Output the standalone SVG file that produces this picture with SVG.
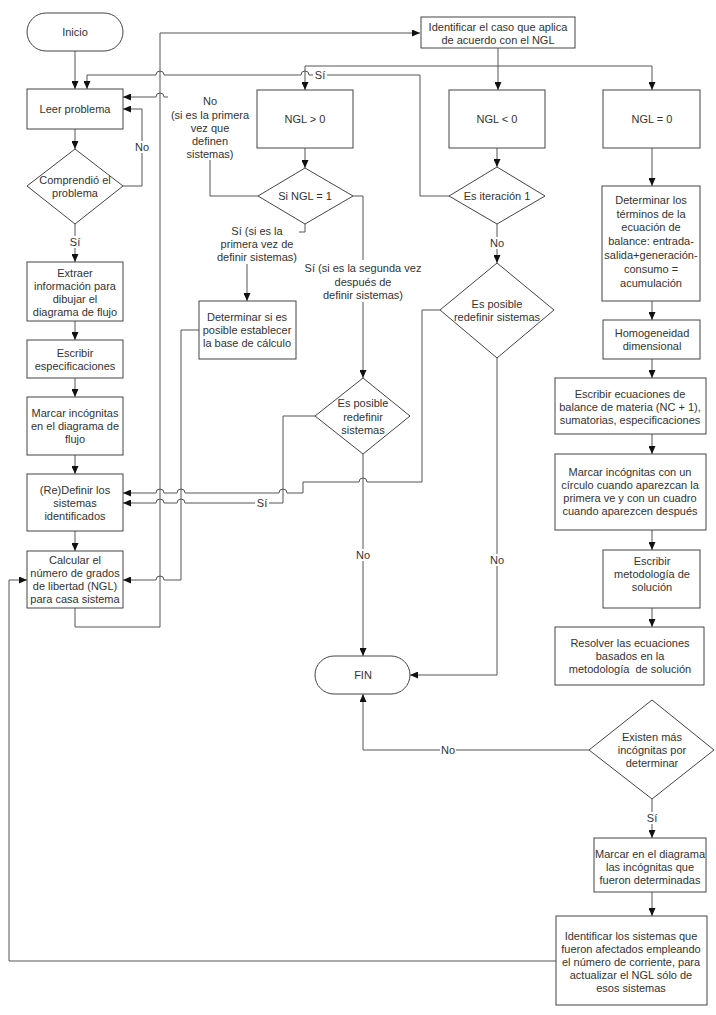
<svg xmlns="http://www.w3.org/2000/svg" width="716" height="1015" viewBox="0 0 716 1015">
<style>
text{font-family:"Liberation Sans",Arial,sans-serif;font-size:11px;fill:#333;text-anchor:middle;dominant-baseline:central}
.n{fill:#fff;stroke:#444;stroke-width:1}
.c{fill:none;stroke:#555;stroke-width:1;marker-end:url(#ah)}
.p{fill:none;stroke:#555;stroke-width:1}
.bg{fill:#fff;stroke:none}
</style>
<defs>
<marker id="ah" markerWidth="8" markerHeight="7" refX="8" refY="3.5" orient="auto" markerUnits="userSpaceOnUse"><path d="M0,0 L8,3.5 L0,7 z" fill="#111"/></marker>
</defs>
<rect width="716" height="1015" fill="#fff"/>
<g id="connectors">
<path class="c" d="M75 51 V89"/>
<path class="c" d="M450 196 H420 V75 H309 A4 4 0 0 0 301 75 H164 A4 4 0 0 0 156 75 H87 V89"/>
<path class="c" d="M258 196 H210 V97 H164 A4 4 0 0 0 156 97 H123"/>
<path class="c" d="M123 186 H142 V109 H123"/>
<path class="c" d="M75 129 V149"/>
<path class="c" d="M75 224 V262"/>
<path class="c" d="M75 321 V340"/>
<path class="c" d="M75 378 V397"/>
<path class="c" d="M75 455 V474"/>
<path class="c" d="M75 531 V551"/>
<path class="c" d="M75 608 V627 H160 V33 H420"/>
<path class="c" d="M498 48 V90"/>
<path class="c" d="M498 66 H305 V90"/>
<path class="c" d="M498 66 H652 V90"/>
<path class="c" d="M305 148 V168"/>
<path class="c" d="M305 224 V232 H247 V301"/>
<path class="c" d="M353 196 H363 V378"/>
<path class="c" d="M199 330 H181 V580 H164 A4 4 0 0 0 156 580 H123"/>
<path class="c" d="M315 416 H283 V503 H185 A4 4 0 0 0 177 503 H164 A4 4 0 0 0 156 503 H123"/>
<path class="c" d="M363 454 V656"/>
<path class="c" d="M497 148 V167"/>
<path class="c" d="M497 224 V263"/>
<path class="c" d="M440 310 H422 V482 H367 A4 4 0 0 0 359 482 H303 V493 H287 A4 4 0 0 0 279 493 H185 A4 4 0 0 0 177 493 H164 A4 4 0 0 0 156 493 H123"/>
<path class="c" d="M497 358 V675 H410"/>
<path class="c" d="M652 148 V186"/>
<path class="c" d="M652 301 V320"/>
<path class="c" d="M652 359 V378"/>
<path class="c" d="M652 434 V454"/>
<path class="c" d="M652 530 V550"/>
<path class="c" d="M652 608 V627"/>
<path class="c" d="M589 750 H363 V694"/>
<path class="c" d="M652 799 V838"/>
<path class="c" d="M652 892 V916"/>
<path class="c" d="M556 961 H9 V580 H27"/>
</g>
<g id="labels">
<rect class="bg" x="313" y="69" width="14" height="12"/><text x="320" y="75">Sí</text>
<rect class="bg" x="134" y="141" width="16" height="12"/><text x="142" y="147">No</text>
<rect class="bg" x="68" y="236" width="14" height="12"/><text x="75" y="242">Sí</text>
<rect class="bg" x="168" y="93" width="84" height="67"/>
<text x="210" y="101">No</text><text x="210" y="115">(si es la primera</text><text x="210" y="128">vez que</text><text x="210" y="141">definen</text><text x="210" y="154">sistemas)</text>
<rect class="bg" x="215" y="224" width="84" height="40"/>
<text x="257" y="231">Sí (si es la</text><text x="257" y="244">primera vez de</text><text x="257" y="257">definir sistemas)</text>
<rect class="bg" x="302" y="260" width="122" height="42"/>
<text x="363" y="268">Sí (si es la segunda vez</text><text x="363" y="282">después de</text><text x="363" y="295">definir sistemas)</text>
<rect class="bg" x="255" y="497" width="14" height="12"/><text x="262" y="503">Sí</text>
<rect class="bg" x="355" y="549" width="16" height="12"/><text x="363" y="555">No</text>
<rect class="bg" x="489" y="554" width="16" height="12"/><text x="497" y="560">No</text>
<rect class="bg" x="489" y="237" width="16" height="12"/><text x="497" y="243">No</text>
<rect class="bg" x="440" y="744" width="16" height="12"/><text x="448" y="750">No</text>
<rect class="bg" x="645" y="812" width="14" height="12"/><text x="652" y="818">Sí</text>
</g>
<g id="inicio"><rect class="n" x="27" y="13" width="96" height="38" rx="19"/><text x="75" y="32">Inicio</text></g>
<g id="leer"><rect class="n" x="27" y="89" width="96" height="40"/><text x="75" y="109">Leer problema</text></g>
<g id="comprendio"><polygon class="n" points="75,149 123,186 75,224 27,186"/><text x="75" y="180">Comprendió el</text><text x="75" y="193">problema</text></g>
<g id="extraer"><rect class="n" x="27" y="262" width="96" height="59"/><text x="75" y="273">Extraer</text><text x="75" y="286">información para</text><text x="75" y="299">dibujar el</text><text x="75" y="312">diagrama de flujo</text></g>
<g id="especificaciones"><rect class="n" x="27" y="340" width="96" height="38"/><text x="75" y="353">Escribir</text><text x="75" y="366">especificaciones</text></g>
<g id="marcar1"><rect class="n" x="27" y="397" width="96" height="58"/><text x="75" y="413">Marcar incógnitas</text><text x="75" y="426">en el diagrama de</text><text x="75" y="439">flujo</text></g>
<g id="redefinir"><rect class="n" x="27" y="474" width="96" height="57"/><text x="75" y="490">(Re)Definir los</text><text x="75" y="503">sistemas</text><text x="75" y="516">identificados</text></g>
<g id="calcular"><rect class="n" x="27" y="551" width="96" height="57"/><text x="75" y="560">Calcular el</text><text x="75" y="573">número de grados</text><text x="75" y="586">de libertad (NGL)</text><text x="75" y="599">para casa sistema</text></g>
<g id="identificar"><rect class="n" x="421" y="17" width="154" height="31"/><text x="498" y="27">Identificar el caso que aplica</text><text x="498" y="40">de acuerdo con el NGL</text></g>
<g id="ngl_pos"><rect class="n" x="257" y="90" width="96" height="58"/><text x="305" y="119">NGL &gt; 0</text></g>
<g id="ngl_neg"><rect class="n" x="449" y="90" width="96" height="58"/><text x="497" y="119">NGL &lt; 0</text></g>
<g id="ngl_cero"><rect class="n" x="603" y="90" width="97" height="58"/><text x="652" y="119">NGL = 0</text></g>
<g id="si_ngl1"><polygon class="n" points="305,168 353,196 305,224 258,196"/><text x="305" y="196">Si NGL = 1</text></g>
<g id="iteracion"><polygon class="n" points="497,167 545,196 497,224 449,196"/><text x="497" y="196">Es iteración 1</text></g>
<g id="redefinir_der"><polygon class="n" points="497,263 554,310 497,358 440,310"/><text x="497" y="304">Es posible</text><text x="497" y="317">redefinir sistemas</text></g>
<g id="base_calculo"><rect class="n" x="199" y="301" width="97" height="58"/><text x="247" y="317">Determinar si es</text><text x="247" y="330">posible establecer</text><text x="247" y="343">la base de cálculo</text></g>
<g id="redefinir_med"><polygon class="n" points="363,378 410,416 363,454 315,416"/><text x="363" y="403">Es posible</text><text x="363" y="417">redefinir</text><text x="363" y="430">sistemas</text></g>
<g id="fin"><rect class="n" x="315" y="656" width="95" height="38" rx="19"/><text x="363" y="675">FIN</text></g>
<g id="terminos"><rect class="n" x="602" y="186" width="98" height="115"/><text x="651" y="200">Determinar los</text><text x="651" y="214">términos de la</text><text x="651" y="227">ecuación de</text><text x="651" y="241">balance: entrada-</text><text x="651" y="255">salida+generación-</text><text x="651" y="269">consumo =</text><text x="651" y="283">acumulación</text></g>
<g id="homogeneidad"><rect class="n" x="603" y="320" width="97" height="39"/><text x="652" y="333">Homogeneidad</text><text x="652" y="346">dimensional</text></g>
<g id="ecuaciones"><rect class="n" x="555" y="378" width="151" height="56"/><text x="630" y="394">Escribir ecuaciones de</text><text x="630" y="407">balance de materia (NC + 1),</text><text x="630" y="420">sumatorias, especificaciones</text></g>
<g id="marcar2"><rect class="n" x="555" y="454" width="151" height="76"/><text x="630" y="472">Marcar incógnitas con un</text><text x="630" y="485">círculo cuando aparezcan la</text><text x="630" y="498">primera ve y con un cuadro</text><text x="630" y="511">cuando aparezcen después</text></g>
<g id="metodologia"><rect class="n" x="603" y="550" width="97" height="58"/><text x="652" y="561">Escribir</text><text x="652" y="574">metodología de</text><text x="652" y="587">solución</text></g>
<g id="resolver"><rect class="n" x="555" y="627" width="149" height="58"/><text x="630" y="643">Resolver las ecuaciones</text><text x="630" y="656">basados en la</text><text x="630" y="669" xml:space="preserve">metodología  de solución</text></g>
<g id="existen"><polygon class="n" points="652,700 714,750 652,799 589,750"/><text x="652" y="737">Existen más</text><text x="652" y="750">incógnitas por</text><text x="652" y="763">determinar</text></g>
<g id="marcar3"><rect class="n" x="594" y="838" width="112" height="54"/><text x="650" y="854">Marcar en el diagrama</text><text x="650" y="867">las incógnitas que</text><text x="650" y="880">fueron determinadas</text></g>
<g id="identificar_sist"><rect class="n" x="556" y="916" width="151" height="89"/><text x="631" y="936">Identificar los sistemas que</text><text x="631" y="949">fueron afectados empleando</text><text x="631" y="962">el número de corriente, para</text><text x="631" y="975">actualizar el NGL sólo de</text><text x="631" y="988">esos sistemas</text></g>
</svg>
